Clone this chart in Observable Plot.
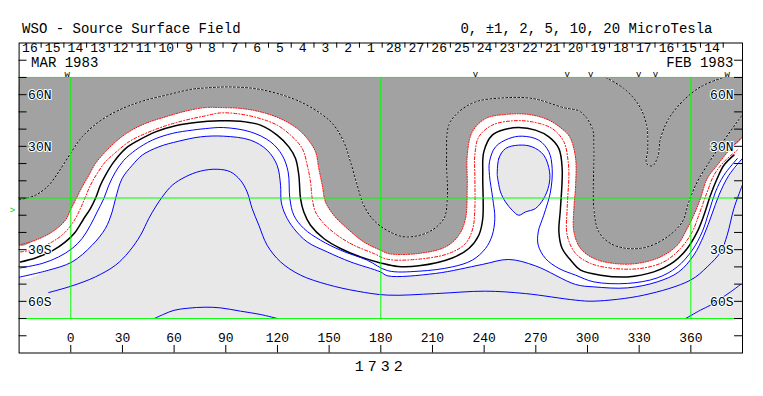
<!DOCTYPE html>
<html><head><meta charset="utf-8">
<script src="https://cdn.jsdelivr.net/npm/d3@7"></script>
<script src="https://cdn.jsdelivr.net/npm/@observablehq/plot@0.6"></script>
<style>body{margin:0;background:#fff}</style>
</head><body><div id="chart"></div>
<script>
// ---- contour lines: [longitude, latitude] ----
const neutral0 = [[-29.2,-37.1],[-20.5,-34.8],[-10.8,-30.7],[-3.1,-25.5],[2.7,-19.7],[7.6,-11.9],[11.4,-6.1],[14.3,-0.3],[17.2,7.4],[20.1,13.2],[25,21],[31.8,28.7],[39.5,33.6],[49.2,38.4],[60.8,41.9],[72.4,43.8],[86.9,44.8],[98.5,44.6],[110.1,42.3],[119.8,36.5],[126.6,29.7],[130.5,22.9],[132.4,13.2],[133.4,-0.3],[135.3,-8.1],[139.2,-15.8],[146.9,-23.5],[156.6,-29.3],[168.2,-34.2],[179.8,-37.7],[190,-39.8],[202.1,-39.4],[221.5,-34.8],[231.1,-29.3],[236.9,-21.6],[239.2,-11.9],[239.2,13.2],[239.8,26.8],[244.7,36.5],[252.4,39.9],[260.1,40.9],[269.8,39.4],[277.6,35.5],[283.4,28.7],[285.3,17.1],[284.3,-6.1],[283.4,-19.7],[285.3,-29.3],[291.1,-37.1],[296,-41.9],[307.6,-44.8],[323.1,-45.8],[338.5,-42.9],[350.1,-37.1],[357.9,-29.3],[363.7,-19.7],[367.6,-10],[371.4,1.6],[375.3,11.3],[379.2,19],[385,24.9]];
const minus1 = [[-29.2,-31.3],[-20.5,-29.7],[-10.8,-25.5],[-3.1,-19.7],[2.7,-11.9],[5.6,-6.1],[8.5,0.6],[11.4,7.4],[15.3,14.2],[20.1,21],[26,26.4],[33.7,32.6],[43.4,37.5],[55,41.9],[66.6,45.2],[78.2,47.7],[86.9,49.4],[98.5,48.7],[110.1,46.1],[119.8,42.3],[127.6,36.5],[134.4,28.7],[137.3,19],[139.2,9.3],[140.2,-0.3],[142.1,-8.1],[146.9,-14.8],[154.7,-21.6],[164.3,-27.4],[175.9,-32.2],[184,-35.6],[202.1,-35.5],[219.5,-32.2],[229.2,-26.4],[233.4,-17.7],[234.6,-6.1],[234.6,13.2],[234.6,24.9],[236.9,35.5],[244.7,42.3],[256.3,44.8],[267.9,44.2],[279.5,40.3],[286.3,32.6],[288.8,21],[289.2,13.2],[288.2,-6.1],[288.2,-21.6],[293.1,-32.2],[301.8,-38],[315.3,-40.9],[330.8,-40.9],[344.3,-37.1],[354,-29.3],[360.8,-19.7],[364.6,-10],[369.5,3.5],[373.4,13.2],[379.2,21],[387,27.8]];
const minus2 = [[-30,-27.3],[-20.5,-24.5],[-10.8,-19.7],[-3.1,-12.9],[-0.2,-7.1],[2.7,-1.3],[6.6,6.4],[10.5,13.2],[14.3,20],[20.1,26.8],[26,32.6],[33.7,38.4],[43.4,43.3],[55,47.1],[66.6,50.4],[78.2,52.5],[86.9,52.5],[98.5,52],[110.1,50],[121.7,46.1],[131.5,40.3],[137.3,34.5],[142.1,26.8],[144,17.1],[146,7.4],[147.9,-2.3],[152.7,-10],[160.5,-17.7],[170.1,-25.5],[179.8,-30.3],[185,-32.4],[202.1,-32.2],[217.6,-28.4],[225.3,-21.6],[229.2,-11.9],[230.2,7.4],[230.2,24.9],[233.1,38.4],[240.8,46.1],[252.4,48.5],[265.9,48.5],[277.6,45.2],[287.2,38.4],[290.2,34.5],[293.1,22.9],[293.1,7.4],[292.1,-6.1],[292.1,-19.7],[296,-29.3],[303.7,-35.1],[315.3,-38],[328.9,-38],[342.4,-34.2],[352.1,-27.4],[357.9,-17.7],[361.7,-10],[365.6,-0.3],[369.5,11.3],[375.3,19],[383.1,28.7],[390,35.5]];
const minus5 = [[-30,-1],[-20.5,1.6],[-12.8,7.4],[-7,15.2],[-0.2,25.8],[6.6,35.5],[16.3,44.2],[27.9,51],[41.5,56.2],[56.9,60.1],[70.5,63.2],[78.2,63.9],[90.8,64.5],[106.3,63.6],[119.8,60.7],[133.4,55.8],[145,49.1],[152.7,42.3],[158.5,32.6],[162.4,21],[166.3,7.4],[170.1,-4.2],[175.9,-12.9],[184,-19],[194.3,-22.6],[207.9,-19.7],[216.6,-11.9],[218.6,-0.3],[218.2,22.9],[219.5,42.3],[225.3,50],[235,55.8],[250.5,58.1],[267.9,57.8],[286,52.5],[296,50],[302.8,40.3],[303.7,28.7],[303.7,-6.1],[306.6,-19.7],[313.4,-26.4],[323.1,-29.3],[334.7,-28.4],[346.3,-22.6],[355,-13.9],[358.8,-2.3],[363.7,9.3],[369.5,19],[377.3,30.7],[390,48.5]];
const minus5Tongue = [[310.5,70],[321.1,63.6],[329.8,53.9],[334.3,42.3],[335,28.7],[334.3,20],[337.6,18.6],[340.8,23.9],[342.4,34.5],[347.2,46.1],[355.9,56.8],[365.6,64.5],[377.3,69.4],[380,70]];
const plus1 = [[-29.2,-40.6],[-16.6,-38],[-7,-34.2],[0.8,-29.3],[6.6,-23.5],[11.4,-15.8],[15.3,-8.1],[19.2,-0.3],[22.1,7.4],[26,15.2],[30.8,21.9],[37.6,27.8],[47.3,33.6],[58.9,37.5],[70.5,39.4],[78.2,40.3],[88.8,40.9],[104.3,38.4],[116,32.6],[122.7,24.9],[126.2,15.2],[127.2,-0.3],[129.5,-10],[135.3,-17.7],[145,-24.5],[156.6,-30.3],[172.1,-36.1],[184,-42.2],[202.1,-42.5],[221.5,-40],[233.1,-36.1],[240.8,-29.3],[244.7,-21.6],[246.2,-11.9],[245,-0.3],[243.1,13.2],[243.1,21],[246.6,29.7],[254.3,34.5],[262.1,35.9],[271.7,33.6],[277.6,26.8],[279.5,17.1],[278.5,3.5],[274.6,-10],[271.4,-19.7],[271.4,-27.4],[275.6,-35.1],[283.4,-40.9],[293.1,-44.8],[303.7,-48.7],[323.1,-49.6],[340.5,-46.4],[352.1,-40],[360.8,-30.3],[366.6,-19.7],[370.5,-8.1],[374.3,3.5],[379.2,13.2],[387,22.9]];
const plus2 = [[-30,-46],[-12.8,-41.9],[0.8,-37.1],[12.4,-27.4],[20.1,-17.7],[24,-8.1],[26,-0.3],[29.8,11.3],[35.7,19],[41.5,24.9],[51.1,29.7],[62.7,33],[75.3,35.5],[88.8,35.9],[104.3,33.6],[114,27.8],[119.8,19],[121.8,7.4],[122.2,-2.3],[124.7,-10],[129.5,-17.7],[137.3,-25.5],[148.9,-31.3],[162.4,-37.1],[179.8,-42.9],[184,-45.2],[211.8,-43.8],[238.9,-38.6],[254.3,-35.7],[269.8,-39.4],[293.1,-50.2],[303.7,-51.6],[323.1,-52.2],[340.5,-48.7],[353,-42.9],[361.7,-33.2],[367.6,-21.6],[372.4,-9],[376.3,1.6],[382.1,13.2],[390,23]];
const plus2Island = [[247.6,13.2],[248.5,22.9],[252.4,28.7],[260.1,30.7],[267.9,29.7],[274.6,24.9],[278,15.2],[277.6,7.4],[274.6,-0.3],[269.8,-6.1],[264,-8.1],[260.1,-10],[256.3,-7.1],[252.4,-2.3],[249.5,3.5],[247.6,13.2]];
const plus5 = [[-12.8,-54.9],[0.8,-51],[14.3,-45.8],[26,-39],[33.7,-31.3],[40.5,-21.6],[45.3,-11.9],[49.2,-5.2],[53.1,0.6],[58.9,7.4],[66.6,12.3],[75.3,15.6],[85,16.7],[92.7,15.2],[98.5,10.3],[102.4,3.5],[105.3,-6.1],[109.2,-15.8],[114,-27.4],[121.8,-37.1],[133.4,-44.8],[148.9,-50.2],[166.3,-54.1],[184,-56.4],[211.8,-55.5],[240.8,-54.1],[264,-55.5],[293.1,-59.3],[303.7,-59.9],[332.7,-56.4],[359.8,-47.7],[369.5,-40],[377.3,-31.3],[381.1,-21.6],[385,-6.1],[389.9,7.4]];
const plus10a = [[48.5,-70],[54,-67.5],[60,-65.2],[68,-64],[78,-63.4],[87,-63.8],[98.5,-65.7],[110,-67.6],[120,-70]];
const plus10b = [[357,-70],[365.6,-65.1],[371.4,-62.2],[383.1,-54.5],[388.9,-50.2]];

// ---- axes / annotation values ----
const lonTicks = [0,30,60,90,120,150,180,210,240,270,300,330,360];
const latTicks = [-80,-70,-60,-50,-40,-30,-20,-10,0,10,20,30,40,50,60,70,80];
const latLabels = [[60,"60N"],[30,"30N"],[-30,"30S"],[-60,"60S"]];
const dayLabels = ["16","15","14","13","12","11","10","9","8","7","6","5","4","3","2","1","28","27","26","25","24","23","22","21","20","19","18","17","16","15","14"];
const dayTickLons = [-30.4,-17.2,-4.0,9.2,22.4,35.6,48.8,62.0,75.2,88.4,101.6,114.8,128.0,141.2,154.4,167.6,180.8,194.0,207.2,220.4,233.6,246.8,260.0,273.2,286.4,299.6,312.8,326.0,339.2,352.4,365.6,378.8];
const obsMarks = [[-2.1,"w"],[235,"v"],[288.2,"v"],[301.8,"v"],[329.8,"v"],[339.5,"v"],[381.1,"w"]];
const gridLons = [0,180,360];
const gridLats = [-70,0,70];
const rotation = "1732";
const title = "WSO - Source Surface Field";
const levels = "0, ±1, 2, 5, 10, 20 MicroTesla";

const X = d => d[0], Y = d => d[1];
const font = "Liberation Mono, DejaVu Sans Mono, monospace";
const whitePoly = [[-30,70], ...plus2, [390,70]];
const grayPoly = [[-30,70], ...minus2, [390,70]];
const cr = "catmull-rom";

const chart = Plot.plot({
  width: 763, height: 396,
  marginLeft: 18.6, marginRight: 21, marginTop: 42.5, marginBottom: 43.5,
  x: {domain: [-30, 390], axis: null},
  y: {domain: [-90, 90], axis: null},
  style: {background: "white", fontFamily: font},
  marks: [
    Plot.rect([0], {x1: -30, x2: 390, y1: -70, y2: 70, fill: "#e8e8e8"}),
    Plot.line(whitePoly, {x: X, y: Y, fill: "white", stroke: "none", curve: cr, clip: true}),
    Plot.line(plus2Island, {x: X, y: Y, fill: "#e8e8e8", stroke: "none", curve: "catmull-rom-closed"}),
    Plot.line(grayPoly, {x: X, y: Y, fill: "#a2a2a2", stroke: "none", curve: cr, clip: true}),
    Plot.rect([0], {x1: -30, x2: 390, y1: 70, y2: 90, fill: "white"}),
    Plot.rect([0], {x1: -30, x2: 390, y1: -90, y2: -70, fill: "white"}),
    // contours
    ...[minus5, minus5Tongue].flatMap(c => [
      Plot.line(c, {x: X, y: Y, stroke: "white", strokeWidth: 1, curve: cr, clip: true}),
      Plot.line(c, {x: X, y: Y, stroke: "black", strokeWidth: 1, strokeDasharray: "2,2", curve: cr, clip: true})
    ]),
    Plot.line(minus2, {x: X, y: Y, stroke: "#ff0000", strokeWidth: 1, strokeDasharray: "1,1.5", curve: cr, clip: true}),
    Plot.line(minus1, {x: X, y: Y, stroke: "#ff0000", strokeWidth: 1, strokeDasharray: "3,2,1,2", curve: cr}),
    Plot.line(neutral0, {x: X, y: Y, stroke: "black", strokeWidth: 1.5, curve: cr}),
    ...[plus1, plus2, plus5, plus10a, plus10b].map(c =>
      Plot.line(c, {x: X, y: Y, stroke: "#0000ff", strokeWidth: 1, curve: cr, clip: true})),
    Plot.line(plus2Island, {x: X, y: Y, stroke: "#0000ff", strokeWidth: 1, curve: "catmull-rom-closed"}),
    // green reference lines
    Plot.ruleX(gridLons, {x: d => d, y1: -70, y2: 70, stroke: "#00ff00", strokeWidth: 1}),
    Plot.ruleY(gridLats, {y: d => d, x1: -30, x2: 390, stroke: "#00ff00", strokeWidth: 1}),
    Plot.frame({stroke: "black"}),
    // latitude ticks both sides
    Plot.ruleY(latTicks, {y: d => d, x1: -30, x2: -25.4, stroke: "black"}),
    Plot.ruleY(latTicks, {y: d => d, x1: 385.4, x2: 390, stroke: "black"}),
    Plot.text(latLabels, {x: -30, y: d => d[0], text: d => d[1], dx: 9, textAnchor: "start", fontSize: 13, fill: "black", stroke: "white", strokeWidth: 2, paintOrder: "stroke"}),
    Plot.text(latLabels, {x: 390, y: d => d[0], text: d => d[1], dx: -9, textAnchor: "end", fontSize: 13, fill: "black", stroke: "white", strokeWidth: 2, paintOrder: "stroke"}),
    // longitude axis
    Plot.ruleX(lonTicks, {x: d => d, y1: -90, y2: -85.6, stroke: "black"}),
    Plot.text(lonTicks, {x: d => d, y: -81.3, text: d => String(d), fontSize: 13, fill: "black"}),
    Plot.text([rotation], {x: 180, y: -97.5, text: d => d, fontSize: 15, fill: "black"}),
    // day strip
    Plot.ruleX(dayTickLons.slice(1), {x: d => d, y1: 90, y2: 87, stroke: "black"}),
    Plot.text(dayLabels, {x: (d, i) => dayTickLons[i], y: 87, text: d => d, dx: 11.5, textAnchor: "middle", fontSize: 13, fill: "black"}),
    Plot.text(["MAR 1983"], {x: -30, y: 78.6, text: d => d, dx: 12, textAnchor: "start", fontSize: 14, fill: "black"}),
    Plot.text(["FEB 1983"], {x: 390, y: 78.6, text: d => d, dx: -9, textAnchor: "end", fontSize: 14, fill: "black"}),
    Plot.text(obsMarks, {x: d => d[0], y: 71.7, text: d => d[1], fontSize: 9, fill: "black"}),
    Plot.text([">"], {x: -30, y: -7.1, text: d => d, dx: -4, textAnchor: "end", fontSize: 9, fill: "#00cc00"}),
    // titles
    Plot.text([title], {x: -30, y: 98.6, text: d => d, dx: 3, textAnchor: "start", fontSize: 14, fill: "black"}),
    Plot.text([levels], {x: 390, y: 98.6, text: d => d, dx: -30, textAnchor: "end", fontSize: 14, fill: "black"})
  ]
});
d3.select(chart).selectAll("text").filter(function () { return this.textContent === rotation; })
  .attr("letter-spacing", "4px");
document.getElementById("chart").appendChild(chart);
</script>
</body></html>
